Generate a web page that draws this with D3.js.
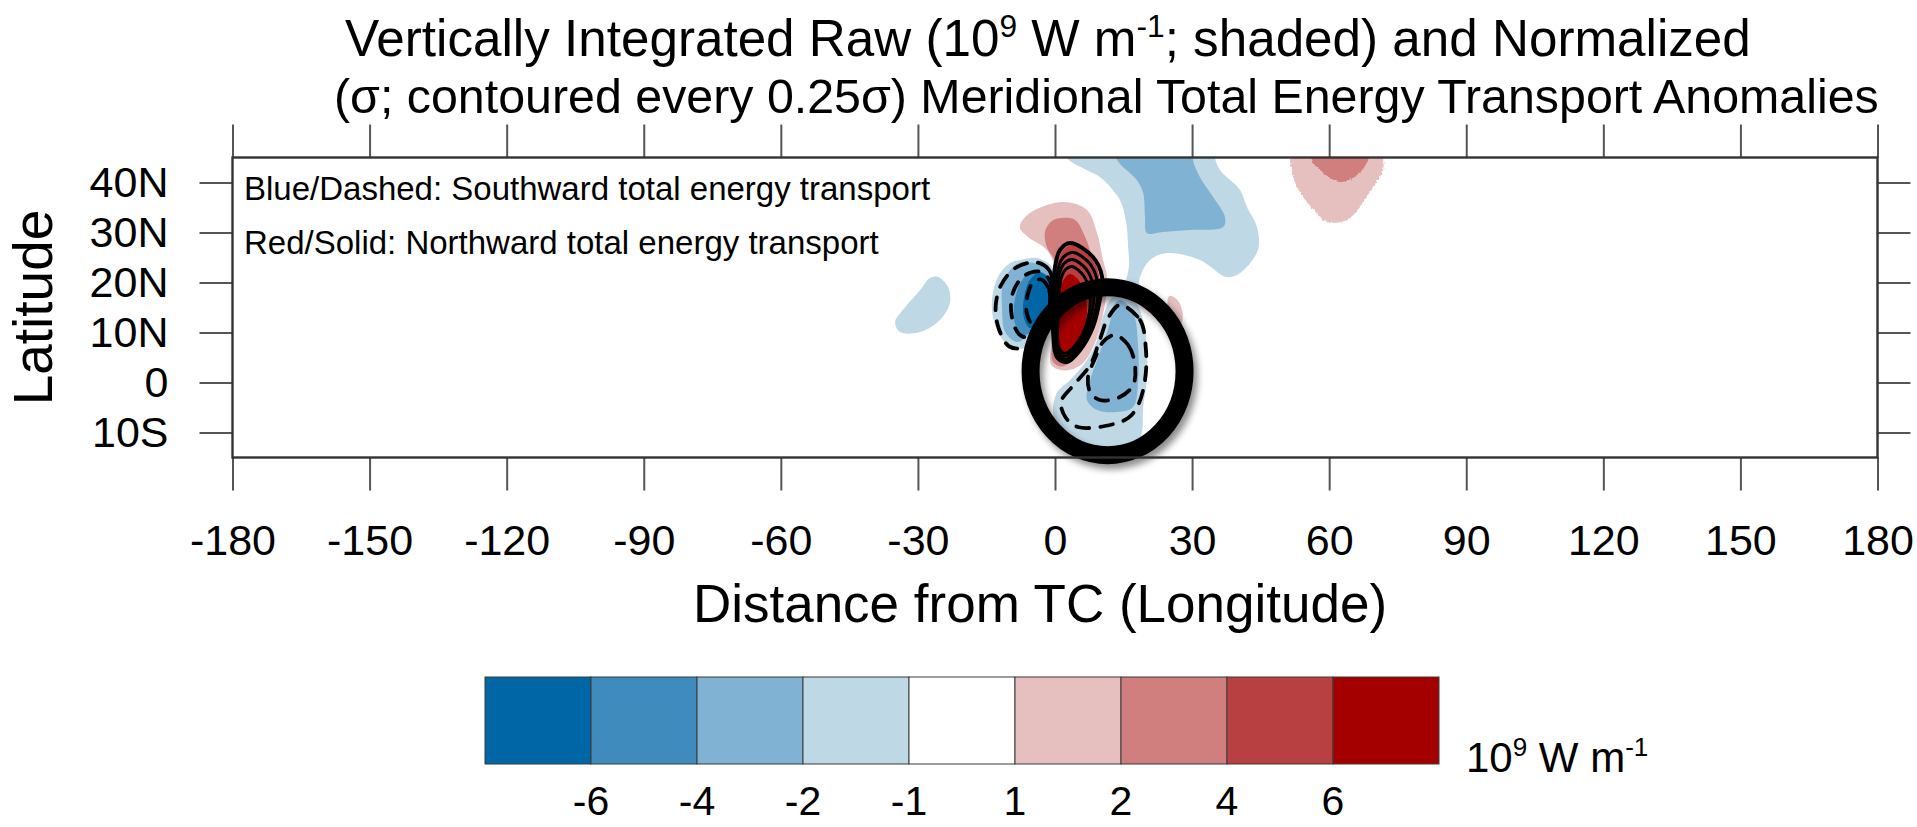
<!DOCTYPE html>
<html>
<head>
<meta charset="utf-8">
<script src="https://cdn.jsdelivr.net/npm/d3@7"></script>
<style>
  html, body { margin: 0; padding: 0; background: #fff; }
  svg { display: block; font-family: "Liberation Sans", Arial, Helvetica, sans-serif; }
</style>
</head>
<body>
<svg id="chart" width="1917" height="827"></svg>
<script>
// ---- colour levels of the shaded raw anomaly (10^9 W m^-1) ----
const levels = [-6, -4, -2, -1, 1, 2, 4, 6];
const levelLabels = ["-6", "-4", "-2", "-1", "1", "2", "4", "6"];
const palette = ["#0066a6", "#408bbd", "#80b2d3", "#bfd8e6", "#ffffff",
                 "#e6bfbf", "#d07e7e", "#b94040", "#a40000"];

// ---- axis ticks ----
const lonTicks = [-180, -150, -120, -90, -60, -30, 0, 30, 60, 90, 120, 150, 180];
const latTicks = [-10, 0, 10, 20, 30, 40];
const latLabels = ["10S", "0", "10N", "20N", "30N", "40N"];

// ---- shaded anomaly regions, outlines as [lon, lat] ----
// weak trough well west of the storm
const farWestTrough = [[-25.6,21.1],[-23.4,19.1],[-23.0,15.9],[-25.2,12.5],[-29.5,10.1],[-33.9,10.1],
  [-35.0,12.1],[-33.3,14.5],[-29.5,18.5],[-27.4,20.9]];
// southward transport just west of the centre
const westTroughWeak = [[-7.7,24.5],[-3.9,24.9],[-0.7,23.1],[0.0,19.1],[-1.8,14.5],[-3.9,9.9],[-6.1,7.1],
  [-9.2,6.9],[-11.4,8.5],[-13.6,13.1],[-13.6,17.9],[-12.0,21.9],[-9.8,23.9]];
const westTroughModerate = [[-7.0,24.1],[-1.1,22.5],[-0.7,18.5],[-2.8,13.9],[-5.5,9.9],[-8.3,8.1],
  [-10.9,10.1],[-11.6,15.1],[-11.4,19.9],[-9.4,22.9]];
const westTroughStrong = [[-4.8,22.1],[-0.7,20.5],[-1.5,15.1],[-3.9,11.1],[-7.0,9.5],[-8.8,11.9],
  [-8.8,16.5],[-7.2,20.5]];
const westTroughCore = [[-3.3,22.1],[-0.4,19.5],[-1.1,15.5],[-2.8,12.5],[-5.5,10.9],[-6.8,12.9],
  [-6.8,16.9],[-5.5,20.5]];
// northward transport at and north of the centre
const ridgeWeak = [[1.8,36.1],[7.0,34.5],[9.2,29.9],[10.5,24.5],[11.4,21.1],[10.8,15.0],[8.8,8.0],
  [5.8,3.6],[2.0,2.4],[-0.8,3.5],[-0.9,7.0],[-0.1,12.0],[0.2,17.0],[0.3,22.0],[-1.8,26.5],
  [-5.9,29.1],[-7.7,31.1],[-5.5,33.9]];
const ridgeModerate = [[1.5,32.9],[4.4,32.5],[6.6,29.1],[8.3,24.5],[9.4,21.1],[9.2,16.5],[7.5,10.5],
  [4.8,5.3],[1.5,3.2],[-0.5,4.2],[-0.6,8.5],[-0.3,16.5],[0.0,24.1],[-1.8,27.1],[-2.2,30.1],[-0.7,32.3]];
const ridgeStrong = [[3.9,27.5],[8.3,24.5],[9.8,20.5],[9.2,14.5],[6.1,8.5],[3.3,5.1],[1.1,4.5],
  [0.0,7.9],[0.0,16.5],[0.4,23.1],[1.8,26.5]];
const ridgeCore = [[3.3,21.7],[5.9,19.5],[7.0,14.5],[6.1,9.5],[3.9,6.5],[1.8,6.1],[0.4,9.5],
  [0.4,15.5],[1.5,19.9]];
// small ridge east of the centre
const eastRidgeSliver = [[25.0,17.3],[26.8,16.5],[27.9,14.0],[27.6,11.5],[26.5,11.0],[25.2,13.0],[24.6,15.5]];
// broad trough to the north-east (runs off the top of the domain)
const northTroughWeak = [[2.6,48],[2.6,45],[6.9,42.5],[9.8,41.1],[14.2,36.5],[15.6,31.9],[16.0,27.1],
  [16.2,23.5],[15.6,20.5],[14.8,17.5],[17.8,17.2],[18.6,21.1],[20.8,24.5],[24.5,25.9],[31.7,24.5],
  [37.6,21.1],[40.5,21.9],[44.4,26.5],[44.2,31.1],[42.0,35.1],[40.5,38.5],[36.1,42.5],[35.0,45],[35.0,48]];
const northTroughModerate = [[12.7,48],[13.6,44.5],[17.9,40.5],[19.3,37.9],[19.7,33.1],[20.1,29.9],
  [23.6,30.1],[29.5,30.5],[36.8,31.1],[37.2,33.1],[34.6,37.1],[31.7,41.1],[30.2,44.5],[30.4,48]];
// trough south-east of the centre
const southTroughWeak = [[12.7,17.1],[17.1,16.5],[19.3,12.5],[20.1,7.1],[20.1,0.5],[19.3,-4.9],[19.0,-10.1],
  [17.9,-12.1],[12.0,-12.9],[4.8,-12.1],[1.1,-9.5],[-0.4,-6.1],[0.4,-2.1],[3.3,0.5],[7.0,4.5],[9.2,8.5],[10.5,13.1]];
const southTroughModerate = [[14.2,16.5],[17.1,13.9],[18.2,7.1],[18.2,0.5],[17.1,-4.9],[13.6,-5.9],
  [9.2,-5.5],[7.0,-3.5],[7.7,0.5],[9.8,5.9],[12.0,11.9],[12.7,15.1]];
// ridge in the upper right of the domain
const farRidgeWeak = [[51.4,48],[51.4,45],[52.1,41.1],[54.3,37.1],[57.3,33.9],[59.5,32.1],[63.9,32.5],
  [66.7,35.1],[69.6,39.1],[71.8,42.5],[71.8,45],[71.8,48]];
const farRidgeModerate = [[55.8,48],[55.8,45],[58.0,42.5],[62.4,40.1],[66.1,41.5],[68.5,44.5],[68.9,48]];

// band value inside each region
const regionValues = [
  [farWestTrough, -1.5], [westTroughWeak, -1.5], [northTroughWeak, -1.5], [southTroughWeak, -1.5],
  [ridgeWeak, 1.5], [eastRidgeSliver, 1.5], [farRidgeWeak, 1.5],
  [westTroughModerate, -3], [northTroughModerate, -3], [southTroughModerate, -3],
  [ridgeModerate, 3], [farRidgeModerate, 3],
  [westTroughStrong, -5], [ridgeStrong, 5],
  [westTroughCore, -7], [ridgeCore, 7]
];

// ---- normalized anomaly contours (every 0.25 sigma) ----
const positiveSigmaContours = [
  [[3.3,27.9],[8.3,25.1],[10.3,21.1],[9.8,16.5],[8.3,11.1],[5.5,6.5],[2.6,4.1],[0.4,5.1],[-0.4,9.9],[-0.4,16.5],[0.0,23.1],[1.1,26.5]],
  [[3.9,26.0],[7.6,23.8],[9.3,20.0],[9.0,15.0],[7.2,10.0],[4.4,6.0],[2.0,4.6],[0.2,6.0],[-0.2,11.0],[0.0,17.0],[0.5,22.0],[1.6,24.8]],
  [[3.8,24.6],[6.9,22.6],[8.4,19.0],[8.2,14.5],[6.6,10.0],[4.0,6.4],[1.9,5.2],[0.5,6.6],[0.2,11.5],[0.4,17.0],[0.9,21.5],[2.0,23.8]],
  [[3.7,23.2],[6.3,21.3],[7.6,18.0],[7.5,14.0],[6.2,10.0],[3.8,6.8],[2.0,5.8],[0.8,7.2],[0.6,12.0],[0.8,17.0],[1.4,21.0],[2.3,22.6]]
];
const negativeSigmaContours = [
  [[-4.0,24.0],[-1.3,22.5],[-0.4,19.0],[-0.9,14.0],[-3.0,10.0],[-6.5,7.0],[-10.0,7.2],[-12.2,10.5],[-13.0,15.0],[-11.8,19.5],[-8.5,23.0]],
  [[-3.5,22.2],[-1.2,20.5],[-0.8,16.0],[-2.5,11.5],[-5.0,9.0],[-7.8,9.6],[-9.5,13.5],[-9.2,18.0],[-6.8,21.3]],
  [[-3.0,20.6],[-1.3,18.5],[-1.3,15.0],[-2.8,12.2],[-4.8,11.5],[-6.2,14.0],[-6.0,17.5],[-4.8,20.0]],
  [[14.2,15.5],[18.6,12.5],[19.9,6.5],[19.7,0.5],[18.2,-4.5],[16.0,-7.1],[10.9,-8.7],[5.0,-8.9],[2.4,-7.1],[1.3,-3.9],[3.7,-0.9],[7.7,3.5],[9.8,8.5],[11.6,12.9]],
  [[13.1,9.5],[16.0,7.5],[17.5,3.5],[17.1,-0.5],[14.2,-2.9],[9.8,-3.5],[7.7,-1.9],[7.2,0.9],[8.8,4.9],[10.5,8.1]]
];

// ---- highlighted area (centre lon/lat, radius in degrees) ----
const highlightCenter = [11.5, 2.25];
const highlightRadius = [16.85, 16.8];

// =================== drawing ===================
const svg = d3.select("#chart");
const W = 1917, H = 827;
const plot = { left: 232.5, right: 1877.5, top: 157.5, bottom: 457.5 };
const FONT = "\"Liberation Sans\", Arial, Helvetica, sans-serif";

const x = d3.scaleLinear().domain([-180, 180]).range([plot.left, plot.right]);
const y = d3.scaleLinear().domain([-15, 45]).range([plot.bottom, plot.top]);
const color = d3.scaleThreshold().domain(levels).range(palette);

const defs = svg.append("defs");
defs.append("clipPath").attr("id", "plotClip")
  .append("rect")
  .attr("x", plot.left).attr("y", plot.top)
  .attr("width", plot.right - plot.left).attr("height", plot.bottom - plot.top);

// ragged edge for the noisy ridge in the upper right
const rough = defs.append("filter").attr("id", "rough")
  .attr("x", "-5%").attr("y", "-5%").attr("width", "110%").attr("height", "110%");
rough.append("feTurbulence").attr("type", "fractalNoise").attr("baseFrequency", 0.45)
  .attr("numOctaves", 1).attr("seed", 3).attr("result", "noise");
rough.append("feDisplacementMap").attr("in", "SourceGraphic").attr("in2", "noise")
  .attr("scale", 4).attr("xChannelSelector", "R").attr("yChannelSelector", "G");

// drop shadow for the highlight ring
const shadow = defs.append("filter").attr("id", "ringShadow")
  .attr("x", "-20%").attr("y", "-20%").attr("width", "140%").attr("height", "140%");
shadow.append("feGaussianBlur").attr("in", "SourceAlpha").attr("stdDeviation", 3.5).attr("result", "blur");
shadow.append("feOffset").attr("in", "blur").attr("dx", 4).attr("dy", 5).attr("result", "off");
shadow.append("feComponentTransfer").attr("in", "off").attr("result", "soft")
  .append("feFuncA").attr("type", "linear").attr("slope", 0.45);
const merge = shadow.append("feMerge");
merge.append("feMergeNode").attr("in", "soft");
merge.append("feMergeNode").attr("in", "SourceGraphic");

svg.append("rect").attr("width", W).attr("height", H).attr("fill", "#fff");

const closedCurve = d3.line()
  .x(d => x(d[0])).y(d => y(d[1]))
  .curve(d3.curveCatmullRomClosed.alpha(0.5));

const field = svg.append("g").attr("clip-path", "url(#plotClip)");

// shaded bands, weakest first so stronger bands sit on top
const regions = regionValues.map(([ring, v]) => ({ ring, v }))
  .sort((a, b) => Math.abs(a.v) - Math.abs(b.v));
field.selectAll("path.band")
  .data(regions)
  .join("path")
  .attr("class", "band")
  .attr("d", d => closedCurve(d.ring))
  .attr("fill", d => color(d.v))
  .attr("filter", d => (d.ring === farRidgeWeak || d.ring === farRidgeModerate) ? "url(#rough)" : null);

// sigma contours: negative dashed, positive solid
field.selectAll("path.neg")
  .data(negativeSigmaContours)
  .join("path")
  .attr("class", "neg")
  .attr("d", closedCurve)
  .attr("fill", "none")
  .attr("stroke", "#000")
  .attr("stroke-width", 3.8)
  .attr("stroke-dasharray", "13,11")
  .attr("stroke-linecap", "round");

field.selectAll("path.pos")
  .data(positiveSigmaContours)
  .join("path")
  .attr("class", "pos")
  .attr("d", closedCurve)
  .attr("fill", "none")
  .attr("stroke", "#000")
  .attr("stroke-width", (d, i) => i === 0 ? 4 : 3);

// highlight ring
svg.append("ellipse")
  .attr("cx", x(highlightCenter[0]))
  .attr("cy", y(highlightCenter[1]))
  .attr("rx", x(highlightCenter[0] + highlightRadius[0]) - x(highlightCenter[0]))
  .attr("ry", y(highlightCenter[1] - highlightRadius[1]) - y(highlightCenter[1]))
  .attr("fill", "none")
  .attr("stroke", "#000")
  .attr("stroke-width", 18)
  .attr("filter", "url(#ringShadow)");

// ---- axes ----
const tickColor = "#555";
function styleAxis(g, showLabels) {
  g.select(".domain").remove();
  g.selectAll(".tick line").attr("stroke", tickColor).attr("stroke-width", 2);
  g.selectAll(".tick text")
    .attr("fill", "#000")
    .attr("font-size", 43)
    .attr("font-family", FONT);
  if (!showLabels) g.selectAll(".tick text").remove();
}

svg.append("g").attr("transform", `translate(0,${plot.bottom})`)
  .call(d3.axisBottom(x).tickValues(lonTicks).tickSize(33).tickPadding(34).tickFormat(d => String(d)))
  .call(g => styleAxis(g, true));
svg.append("g").attr("transform", `translate(0,${plot.top})`)
  .call(d3.axisTop(x).tickValues(lonTicks).tickSize(33))
  .call(g => styleAxis(g, false));
svg.append("g").attr("transform", `translate(${plot.left},0)`)
  .call(d3.axisLeft(y).tickValues(latTicks).tickSize(33).tickPadding(31)
    .tickFormat((d, i) => latLabels[i]))
  .call(g => styleAxis(g, true));
svg.append("g").attr("transform", `translate(${plot.right},0)`)
  .call(d3.axisRight(y).tickValues(latTicks).tickSize(33))
  .call(g => styleAxis(g, false));

// frame
svg.append("rect")
  .attr("x", plot.left).attr("y", plot.top)
  .attr("width", plot.right - plot.left).attr("height", plot.bottom - plot.top)
  .attr("fill", "none").attr("stroke", "#333").attr("stroke-width", 2.4);

// ---- in-plot key ----
const key = svg.append("g").attr("font-size", 33).attr("fill", "#000");
key.append("text").attr("x", plot.left + 11.5).attr("y", 200)
  .text("Blue/Dashed: Southward total energy transport");
key.append("text").attr("x", plot.left + 11.5).attr("y", 254)
  .text("Red/Solid: Northward total energy transport");

// ---- titles ----
// each title line is sized so that it spans its intended width
function fitLine(textSel, targetWidth, baseSize) {
  const w = textSel.node().getComputedTextLength();
  textSel.attr("font-size", baseSize * targetWidth / w);
}
// superscript: 62% size, raised by 0.38 of the main size
function addSup(textSel, str) {
  textSel.append("tspan").attr("dy", "-0.613em").attr("font-size", "62%").text(str);
}
function addBase(textSel, str) {
  textSel.append("tspan").attr("dy", "0.38em").text(str);
}

const t1 = svg.append("text").attr("x", 345).attr("y", 56).attr("font-size", 47);
t1.append("tspan").text("Vertically Integrated Raw (10");
addSup(t1, "9");
addBase(t1, " W m");
addSup(t1, "-1");
addBase(t1, "; shaded) and Normalized");
fitLine(t1, 1406, 47);

const t2 = svg.append("text").attr("x", 334).attr("y", 113).attr("font-size", 47)
  .text("(\u03c3; contoured every 0.25\u03c3) Meridional Total Energy Transport Anomalies");
fitLine(t2, 1545, 47);

svg.append("text").attr("x", 1040).attr("y", 622)
  .attr("text-anchor", "middle").attr("font-size", 53)
  .text("Distance from TC (Longitude)");

svg.append("text")
  .attr("transform", `translate(52,${(plot.top + plot.bottom) / 2}) rotate(-90)`)
  .attr("text-anchor", "middle").attr("font-size", 55)
  .text("Latitude");

// ---- colour bar ----
const cb = { left: 485, right: 1439, top: 677, bottom: 764 };
const cbx = d3.scaleLinear().domain([0, palette.length]).range([cb.left, cb.right]);
const bar = svg.append("g");
bar.selectAll("rect")
  .data(palette)
  .join("rect")
  .attr("x", (d, i) => cbx(i))
  .attr("y", cb.top)
  .attr("width", (d, i) => cbx(i + 1) - cbx(i))
  .attr("height", cb.bottom - cb.top)
  .attr("fill", d => d)
  .attr("stroke", "#3a3a3a")
  .attr("stroke-width", 1);

bar.selectAll("text")
  .data(levelLabels)
  .join("text")
  .attr("x", (d, i) => cbx(i + 1))
  .attr("y", 815)
  .attr("text-anchor", "middle")
  .attr("font-size", 41)
  .text(d => d);

const unit = svg.append("text").attr("x", 1466).attr("y", 772).attr("font-size", 42);
unit.append("tspan").text("10");
addSup(unit, "9");
addBase(unit, " W m");
addSup(unit, "-1");
</script>
</body>
</html>
